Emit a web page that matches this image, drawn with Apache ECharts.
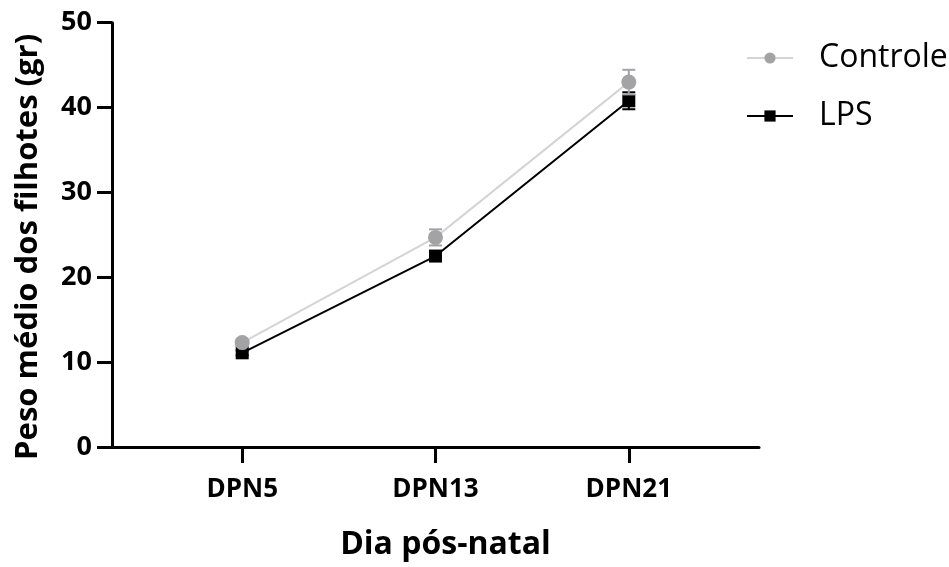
<!DOCTYPE html>
<html>
<head>
<meta charset="utf-8">
<script src="https://cdn.jsdelivr.net/npm/echarts@6/dist/echarts.min.js"></script>
<style>html,body{margin:0;padding:0;background:#fff}#c{width:949px;height:567px}</style>
</head>
<body>
<div id="c"></div>
<script>
const categories = ['DPN5', 'DPN13', 'DPN21'];
const positions = [1, 2, 3];
const controle = [12.3, 24.7, 43.0];
const controleErr = [0.4, 0.95, 1.45];
const lps = [11.1, 22.5, 40.8];
const lpsErr = [0.3, 0.5, 1.0];
const yTicks = [0, 10, 20, 30, 40, 50];

const FONT = '"Open Sans"';
const chart = echarts.init(document.getElementById('c'));

function errSeries(name, vals, errs, color, z) {
  return {
    type: 'custom', name: name + '_err', z: z, silent: true,
    data: positions.map((p, i) => [p, vals[i] - errs[i], vals[i] + errs[i]]),
    renderItem: function (params, api) {
      const lo = api.coord([api.value(0), api.value(1)]);
      const hi = api.coord([api.value(0), api.value(2)]);
      const cw = 6.5;
      const st = { stroke: color, lineWidth: 2 };
      return { type: 'group', children: [
        { type: 'line', shape: { x1: lo[0], y1: lo[1], x2: hi[0], y2: hi[1] }, style: st },
        { type: 'line', shape: { x1: hi[0] - cw, y1: hi[1], x2: hi[0] + cw, y2: hi[1] }, style: st },
        { type: 'line', shape: { x1: lo[0] - cw, y1: lo[1], x2: lo[0] + cw, y2: lo[1] }, style: st }
      ]};
    }
  };
}

chart.setOption({
  animation: false,
  grid: { left: 112, right: 190, top: 22.7, bottom: 120, containLabel: false },
  legend: {
    orient: 'vertical', left: 741, top: 37, itemWidth: 46, itemHeight: 14, itemGap: 26,
    data: ['Controle', 'LPS'],
    textStyle: { fontFamily: FONT, fontSize: 32, color: '#000', padding: [0, 0, 0, 21] }
  },
  xAxis: {
    type: 'value', min: 0.3264, max: 3.6736,
    name: 'Dia pós-natal', nameLocation: 'middle', nameGap: 82,
    nameTextStyle: { fontFamily: FONT, fontWeight: 'bold', fontSize: 32, color: '#000', padding: [0, 0, 0, 20] },
    axisLine: { show: true, onZero: false, lineStyle: { color: '#000', width: 3 } },
    axisTick: { show: true, length: 16, lineStyle: { color: '#000', width: 3 }, customValues: positions },
    axisLabel: { fontFamily: FONT, fontWeight: 'bold', fontSize: 26, color: '#000', margin: 30,
      customValues: positions, formatter: v => categories[positions.indexOf(Math.round(v))] || '' },
    splitLine: { show: false }
  },
  yAxis: {
    type: 'value', min: 0, max: 50, interval: 10,
    name: 'Peso médio dos filhotes (gr)', nameLocation: 'middle', nameGap: 68,
    nameTextStyle: { fontFamily: FONT, fontWeight: 'bold', fontSize: 31, color: '#000', padding: [0, 0, 0, -24] },
    axisLine: { show: true, lineStyle: { color: '#000', width: 3 } },
    axisTick: { show: true, length: 15, lineStyle: { color: '#000', width: 3 } },
    axisLabel: { fontFamily: FONT, fontWeight: 'bold', fontSize: 27, color: '#000', margin: 20,
      customValues: yTicks },
    splitLine: { show: false }
  },
  series: [
    errSeries('LPS', lps, lpsErr, '#000', 3),
    errSeries('Controle', controle, controleErr, '#a3a3a6', 5),
    {
      name: 'LPS', type: 'line', z: 4,
      data: positions.map((p, i) => [p, lps[i]]),
      symbol: 'rect', symbolSize: 13,
      lineStyle: { color: '#000', width: 2 },
      itemStyle: { color: '#000' }
    },
    {
      name: 'Controle', type: 'line', z: 6,
      data: positions.map((p, i) => [p, controle[i]]),
      symbol: 'circle', symbolSize: 15,
      lineStyle: { color: '#d4d4d4', width: 2 },
      itemStyle: { color: '#a3a3a6' }
    }
  ]
});
</script>
</body>
</html>
